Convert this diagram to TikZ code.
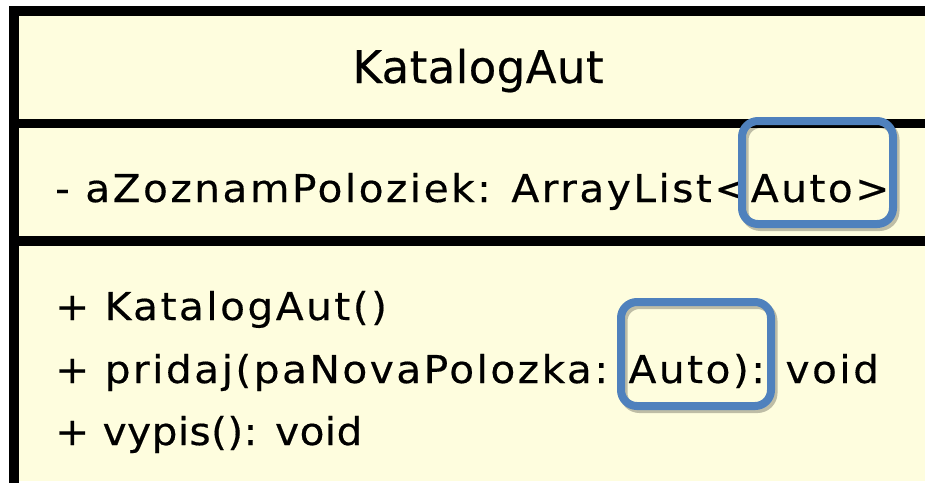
\documentclass[tikz,border=0pt]{standalone}
\usepackage{fontspec}
\setmainfont{DejaVu Sans}[LetterSpace=6.4, FakeStretch=1.06, FakeBold=0.4]
\newfontfamily\headfont{DejaVu Sans}[LetterSpace=1, FakeBold=0.4]
\usetikzlibrary{positioning}

\definecolor{classfill}{RGB}{254,253,222}
\definecolor{markblue}{RGB}{79,129,189}

\begin{document}
\begin{tikzpicture}[
        x=1pt, y=-1pt,
        every node/.style={inner sep=0pt, text=black},
        member/.style={anchor=base west, font=\fontsize{38.4}{62}\selectfont},
        rule/.style={line width=9.5pt},
        hilite/.style={draw=markblue, line width=8pt, rounded corners=16pt},
    ]
    \useasboundingbox (0,0) rectangle (925,483);
    % class body
    \fill[classfill] (14,11) rectangle (925,481);
    \draw[rule, line width=10pt] (925,11) -- (14,11) -- (14,483);
    \draw[rule] (14,123.5) -- (925,123.5);
    \draw[rule] (14,241) -- (925,241);
    % Nodes
    \node (name) [anchor=base, font=\headfont\fontsize{45}{50}\selectfont] at (478,83) {KatalogAut};
    \node (attr) [member] at (55,202) {- aZoznamPoloziek: ArrayList<Auto>};
    \node (ctor) [member] at (55,320) {+ KatalogAut()};
    \node (add)  [member] at (55,383) {+ pridaj(paNovaPolozka: Auto): void};
    \node (show) [member] at (55,445) {\addfontfeature{LetterSpace=1}+ vypis(): void};
    % highlights
    \foreach \cx/\cy/\w/\h [count=\i] in {817.5/172.5/151/103, 696/354/150/104} {
        \draw[black, opacity=0.25, line width=8pt, rounded corners=16pt]
            (\cx-\w/2+2.5,\cy-\h/2+3) rectangle (\cx+\w/2+2.5,\cy+\h/2+3);
        \node (hl\i) [hilite, minimum width=\w pt, minimum height=\h pt] at (\cx,\cy) {};
    }
\end{tikzpicture}
\end{document}
